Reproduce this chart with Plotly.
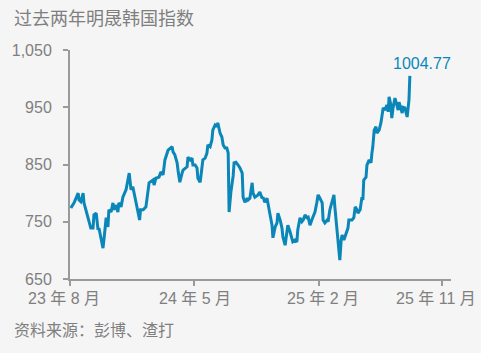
import plotly.graph_objects as go

dates = [
"2023-08-03","2023-08-10","2023-08-19","2023-08-21","2023-08-25","2023-08-30","2023-09-01","2023-09-05","2023-09-12","2023-09-16",
"2023-09-21","2023-09-23","2023-09-28","2023-10-02","2023-10-04","2023-10-09","2023-10-13","2023-10-15","2023-10-20","2023-10-24",
"2023-10-26","2023-10-31","2023-11-04","2023-11-06","2023-11-11","2023-11-15","2023-11-17","2023-11-22","2023-11-26","2023-12-03",
"2023-12-07","2023-12-10","2023-12-14","2023-12-18","2023-12-25","2023-12-29","2024-01-02","2024-01-04","2024-01-10","2024-01-16",
"2024-01-21","2024-01-23","2024-02-01","2024-02-03","2024-02-07","2024-02-14","2024-02-18","2024-02-23","2024-02-27","2024-03-05",
"2024-03-14","2024-03-16","2024-03-20","2024-03-25","2024-03-27","2024-03-31","2024-04-05","2024-04-07","2024-04-16","2024-04-18",
"2024-04-23","2024-04-27","2024-04-29","2024-05-04","2024-05-08","2024-05-10","2024-05-15","2024-05-19","2024-05-21","2024-05-26",
"2024-05-30","2024-06-01","2024-06-06","2024-06-10","2024-06-12","2024-06-17","2024-06-21","2024-06-23","2024-06-28","2024-07-02",
"2024-07-05","2024-07-09","2024-07-13","2024-07-16","2024-07-18","2024-07-22","2024-07-27","2024-07-29","2024-08-02","2024-08-07",
"2024-08-11","2024-08-16","2024-08-18","2024-08-22","2024-08-27","2024-08-29","2024-09-02","2024-09-07","2024-09-09","2024-09-13",
"2024-09-20","2024-09-24","2024-09-29","2024-10-01","2024-10-05","2024-10-10","2024-10-12","2024-10-16","2024-10-21","2024-10-23",
"2024-10-28","2024-11-01","2024-11-03","2024-11-08","2024-11-12","2024-11-14","2024-11-19","2024-11-23","2024-11-25","2024-11-30",
"2024-12-04","2024-12-06","2024-12-11","2024-12-15","2024-12-17","2024-12-22","2024-12-26","2024-12-29","2025-01-02","2025-01-06",
"2025-01-09","2025-01-13","2025-01-17","2025-01-20","2025-01-24","2025-01-28","2025-01-31","2025-02-04","2025-02-09","2025-02-11",
"2025-02-15","2025-02-20","2025-02-22","2025-02-26","2025-03-03","2025-03-07","2025-03-09","2025-03-14","2025-03-16","2025-03-20",
"2025-03-23","2025-03-25","2025-03-29","2025-04-03","2025-04-07","2025-04-09","2025-04-16","2025-04-20","2025-04-23","2025-04-27",
"2025-04-29","2025-05-04","2025-05-08","2025-05-10","2025-05-12","2025-05-17","2025-05-19","2025-05-24","2025-05-28","2025-05-30",
"2025-06-01","2025-06-04","2025-06-08","2025-06-10","2025-06-15","2025-06-19","2025-06-21","2025-06-24","2025-06-28","2025-07-02",
"2025-07-05","2025-07-07","2025-07-11","2025-07-13","2025-07-16","2025-07-20","2025-07-24","2025-07-27","2025-07-29","2025-08-02",
"2025-08-05","2025-08-07","2025-08-11","2025-08-16","2025-08-18","2025-08-20","2025-08-22",
]

msci_korea = [
774,783,800,788,785,800,783,771,748,739,
739,762,765,736,739,722,704,718,757,741,
771,767,783,771,779,767,783,776,793,806,
823,835,806,811,784,771,753,771,771,776,
811,818,823,814,826,828,837,832,858,875,
881,872,867,853,840,819,835,840,846,863,
858,861,849,849,844,826,819,844,858,861,
870,884,881,893,910,919,916,923,905,898,
884,879,879,870,767,802,830,853,854,849,
844,835,793,784,791,788,791,818,800,793,
797,802,791,793,784,791,779,765,744,722,
741,748,765,753,739,724,709,730,744,732,
718,715,718,715,736,757,750,753,762,757,
758,744,753,758,767,783,797,791,783,753,
748,753,750,771,788,797,776,736,718,683,
718,727,718,732,739,753,753,757,776,771,
765,771,793,788,823,828,849,858,853,870,
881,910,916,905,910,923,936,949,945,954,
942,968,954,931,950,966,954,945,959,945,
940,950,949,933,950,963,1004.77,
]

tick_dates = ["2023-08-01", "2024-05-01", "2025-02-01", "2025-11-01"]
tick_labels = ["23 年 8 月", "24 年 5 月", "25 年 2 月", "25 年 11 月"]
tick_label_shift = [-6, 1, 4, -6]
y_ticks = [650, 750, 850, 950, 1050]
y_labels = ["650", "750", "850", "950", "1,050"]

title_text = "过去两年明晟韩国指数"
source_text = "资料来源：彭博、渣打"
last_label = "1004.77"

LINE = "#0a86b8"
GREY = "#9a9a9a"
TXT = "#7f7f7f"
FONT = "Liberation Sans, Arial, Noto Sans CJK SC, sans-serif"

fig = go.Figure()
fig.add_trace(go.Scatter(x=dates, y=msci_korea, mode="lines",
                         line=dict(color=LINE, width=3), hoverinfo="skip"))

fig.add_annotation(x=dates[-1], y=msci_korea[-1], text=last_label, showarrow=False,
                   xanchor="center", yanchor="bottom", xshift=12, yshift=2,
                   font=dict(family=FONT, size=16, color=LINE))

for td, tl, sh in zip(tick_dates, tick_labels, tick_label_shift):
    fig.add_annotation(x=td, y=0, xref="x", yref="paper", text=tl, showarrow=False,
                       xanchor="center", yanchor="middle", xshift=sh, yshift=-19,
                       font=dict(family=FONT, size=16, color=TXT))

fig.add_annotation(x=0, y=1, xref="paper", yref="paper", xanchor="left", yanchor="middle",
                   text=title_text, showarrow=False, xshift=-58, yshift=33,
                   font=dict(family="Noto Sans CJK SC, sans-serif", size=18, color=TXT))
fig.add_annotation(x=0, y=0, xref="paper", yref="paper", xanchor="left", yanchor="middle",
                   text=source_text, showarrow=False, xshift=-58, yshift=-50,
                   font=dict(family="Noto Sans CJK SC, sans-serif", size=16, color=TXT))

fig.update_layout(
    width=481, height=353,
    margin=dict(l=70, r=30, t=50, b=74),
    paper_bgcolor="#f5f5f5", plot_bgcolor="#f5f5f5",
    showlegend=False,
    font=dict(family=FONT, size=16, color=TXT),
)
fig.update_xaxes(type="date", range=["2023-08-01", "2025-11-21"],
                 tickvals=tick_dates, showticklabels=False,
                 showgrid=False, zeroline=False, showline=True, linecolor=GREY, linewidth=2,
                 ticks="outside", ticklen=5, tickwidth=2, tickcolor=GREY)
fig.update_yaxes(range=[650, 1050], tickvals=y_ticks, ticktext=y_labels,
                 showgrid=False, zeroline=False, showline=True, linecolor=GREY, linewidth=2,
                 ticks="outside", ticklen=5, tickwidth=2, tickcolor=GREY,
                 ticklabelstandoff=8,
                 tickfont=dict(family=FONT, size=16, color=TXT))

fig.write_html("out.html")
